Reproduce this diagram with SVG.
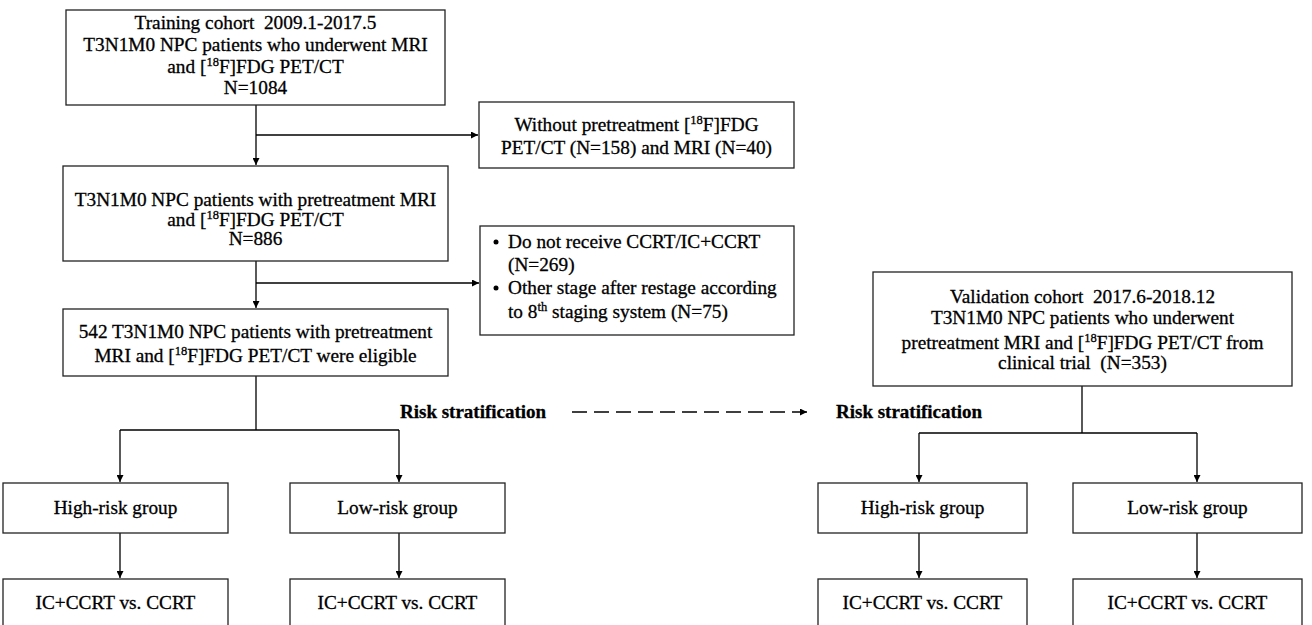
<svg xmlns="http://www.w3.org/2000/svg" width="1312" height="625" viewBox="0 0 1312 625">
<style>
.box{fill:#fff;stroke:#222;stroke-width:1.3}
text{white-space:pre;stroke:#000;stroke-width:0.3}
.t{font-family:"Liberation Serif","Times New Roman",serif;font-size:19.3px;fill:#000;text-anchor:middle}
.tl{font-family:"Liberation Serif","Times New Roman",serif;font-size:19.3px;fill:#000}
.b{font-family:"Liberation Serif","Times New Roman",serif;font-size:19px;font-weight:bold;fill:#000}
.sup{font-size:12.5px}
.ln{fill:none;stroke:#000;stroke-width:1.3}
</style>
<defs>
<marker id="ah" viewBox="0 0 10 10" refX="10" refY="5" markerWidth="7" markerHeight="7" markerUnits="userSpaceOnUse" orient="auto"><path d="M0,0 L10,5 L0,10 z" fill="#000"/></marker>
</defs>
<rect width="1312" height="625" fill="#fff"/>
<g id="connectors">
<path class="ln" d="M256,105 V165" marker-end="url(#ah)"/>
<path class="ln" d="M256,135 H478" marker-end="url(#ah)"/>
<path class="ln" d="M256,261 V308" marker-end="url(#ah)"/>
<path class="ln" d="M256,283 H479" marker-end="url(#ah)"/>
<path class="ln" d="M256,376 V430 M120,430 H399"/>
<path class="ln" d="M120,430 V482" marker-end="url(#ah)"/>
<path class="ln" d="M399,430 V482" marker-end="url(#ah)"/>
<path class="ln" d="M120,533 V578" marker-end="url(#ah)"/>
<path class="ln" d="M399,533 V578" marker-end="url(#ah)"/>
<path class="ln" d="M1082,386 V433 M919,433 H1197"/>
<path class="ln" d="M919,433 V482" marker-end="url(#ah)"/>
<path class="ln" d="M1197,433 V482" marker-end="url(#ah)"/>
<path class="ln" d="M919,533 V578" marker-end="url(#ah)"/>
<path class="ln" d="M1197,533 V578" marker-end="url(#ah)"/>
<path class="ln" d="M572,412 H807" stroke-dasharray="15,7" marker-end="url(#ah)"/>
</g>
<g id="training">
<rect class="box" x="66" y="10" width="379" height="95"/>
<text class="t" x="255.5" y="29">Training cohort  2009.1-2017.5</text>
<text class="t" x="255.5" y="51">T3N1M0 NPC patients who underwent MRI</text>
<text class="t" x="255.5" y="73">and [<tspan class="sup" dy="-7">18</tspan><tspan dy="7">F]FDG PET/CT</tspan></text>
<text class="t" x="255.5" y="94">N=1084</text>
</g>
<g id="excl1">
<rect class="box" x="479" y="102" width="315" height="66"/>
<text class="t" x="636.5" y="131">Without pretreatment [<tspan class="sup" dy="-7">18</tspan><tspan dy="7">F]FDG</tspan></text>
<text class="t" x="636.5" y="154">PET/CT (N=158) and MRI (N=40)</text>
</g>
<g id="pretreat">
<rect class="box" x="63" y="166" width="385" height="95"/>
<text class="t" x="255.5" y="206">T3N1M0 NPC patients with pretreatment MRI</text>
<text class="t" x="255.5" y="226">and [<tspan class="sup" dy="-7">18</tspan><tspan dy="7">F]FDG PET/CT</tspan></text>
<text class="t" x="255.5" y="245">N=886</text>
</g>
<g id="excl2">
<rect class="box" x="480" y="226" width="314" height="109"/>
<circle cx="496" cy="242" r="2.5" fill="#000"/>
<circle cx="496" cy="288" r="2.5" fill="#000"/>
<text class="tl" x="508" y="248">Do not receive CCRT/IC+CCRT</text>
<text class="tl" x="508" y="271">(N=269)</text>
<text class="tl" x="508" y="294">Other stage after restage according</text>
<text class="tl" x="508" y="318">to 8<tspan class="sup" dy="-7">th</tspan><tspan dy="7"> staging system (N=75)</tspan></text>
</g>
<g id="eligible">
<rect class="box" x="63" y="309" width="385" height="67"/>
<text class="t" x="255.5" y="338">542 T3N1M0 NPC patients with pretreatment</text>
<text class="t" x="255.5" y="362">MRI and [<tspan class="sup" dy="-7">18</tspan><tspan dy="7">F]FDG PET/CT were eligible</tspan></text>
</g>
<g id="validation">
<rect class="box" x="873" y="272" width="419" height="114"/>
<text class="t" x="1082.5" y="303">Validation cohort  2017.6-2018.12</text>
<text class="t" x="1082.5" y="324">T3N1M0 NPC patients who underwent</text>
<text class="t" x="1082.5" y="349">pretreatment MRI and [<tspan class="sup" dy="-7">18</tspan><tspan dy="7">F]FDG PET/CT from</tspan></text>
<text class="t" x="1082.5" y="369">clinical trial  (N=353)</text>
</g>
<g id="risk-left"><text class="b" x="400" y="418">Risk stratification</text></g>
<g id="risk-right"><text class="b" x="836" y="418">Risk stratification</text></g>
<g id="hr-left">
<rect class="box" x="3" y="483" width="225" height="50"/>
<text class="t" x="115.5" y="514">High-risk group</text>
</g>
<g id="lr-left">
<rect class="box" x="290" y="483" width="215" height="50"/>
<text class="t" x="397.5" y="514">Low-risk group</text>
</g>
<g id="hr-left-tx">
<rect class="box" x="3" y="579" width="225" height="60"/>
<text class="t" x="115.5" y="609">IC+CCRT vs. CCRT</text>
</g>
<g id="lr-left-tx">
<rect class="box" x="290" y="579" width="215" height="60"/>
<text class="t" x="397.5" y="609">IC+CCRT vs. CCRT</text>
</g>
<g id="hr-right">
<rect class="box" x="818" y="483" width="209" height="50"/>
<text class="t" x="922.5" y="514">High-risk group</text>
</g>
<g id="lr-right">
<rect class="box" x="1073" y="483" width="229" height="50"/>
<text class="t" x="1187.5" y="514">Low-risk group</text>
</g>
<g id="hr-right-tx">
<rect class="box" x="818" y="579" width="209" height="60"/>
<text class="t" x="922.5" y="609">IC+CCRT vs. CCRT</text>
</g>
<g id="lr-right-tx">
<rect class="box" x="1073" y="579" width="229" height="60"/>
<text class="t" x="1187.5" y="609">IC+CCRT vs. CCRT</text>
</g>
</svg>
